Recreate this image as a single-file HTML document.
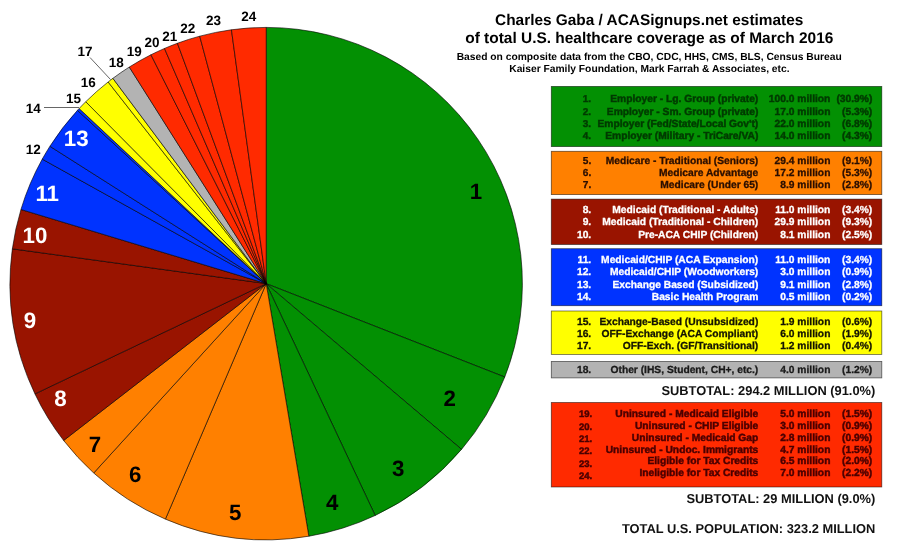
<!DOCTYPE html>
<html><head><meta charset="utf-8"><title>Charles Gaba / ACASignups.net estimates of total U.S. healthcare coverage</title>
<style>
html,body{margin:0;padding:0;background:#fff;}
svg{display:block;filter:blur(0.3px);}
text{font-family:"Liberation Sans",Arial,Helvetica,sans-serif;font-weight:bold;text-rendering:geometricPrecision;}
</style></head>
<body>
<svg width="900" height="546" viewBox="0 0 900 546">
<rect width="900" height="546" fill="#fff"/>
<g stroke="#000" stroke-opacity="0.8" stroke-width="0.75" stroke-linejoin="round"><path d="M266.2 283.6L266.20 27.40A256.2 256.2 0 0 1 504.76 377.02Z" fill="#039003"/><path d="M266.2 283.6L504.76 377.02A256.2 256.2 0 0 1 461.53 449.38Z" fill="#039003"/><path d="M266.2 283.6L461.53 449.38A256.2 256.2 0 0 1 375.18 515.47Z" fill="#039003"/><path d="M266.2 283.6L375.18 515.47A256.2 256.2 0 0 1 308.83 536.23Z" fill="#039003"/><path d="M266.2 283.6L308.83 536.23A256.2 256.2 0 0 1 165.40 519.14Z" fill="#ff8000"/><path d="M266.2 283.6L165.40 519.14A256.2 256.2 0 0 1 93.69 473.01Z" fill="#ff8000"/><path d="M266.2 283.6L93.69 473.01A256.2 256.2 0 0 1 63.65 440.49Z" fill="#ff8000"/><path d="M266.2 283.6L63.65 440.49A256.2 256.2 0 0 1 34.97 393.93Z" fill="#991400"/><path d="M266.2 283.6L34.97 393.93A256.2 256.2 0 0 1 12.37 248.84Z" fill="#991400"/><path d="M266.2 283.6L12.37 248.84A256.2 256.2 0 0 1 20.96 209.47Z" fill="#991400"/><path d="M266.2 283.6L20.96 209.47A256.2 256.2 0 0 1 42.28 159.11Z" fill="#0033ff"/><path d="M266.2 283.6L42.28 159.11A256.2 256.2 0 0 1 49.92 146.27Z" fill="#0033ff"/><path d="M266.2 283.6L49.92 146.27A256.2 256.2 0 0 1 77.46 110.35Z" fill="#0033ff"/><path d="M266.2 283.6L77.46 110.35A256.2 256.2 0 0 1 79.15 108.52Z" fill="#0033ff"/><path d="M266.2 283.6L79.15 108.52A256.2 256.2 0 0 1 85.74 101.74Z" fill="#ffff00"/><path d="M266.2 283.6L85.74 101.74A256.2 256.2 0 0 1 108.14 81.97Z" fill="#ffff00"/><path d="M266.2 283.6L108.14 81.97A256.2 256.2 0 0 1 112.88 78.34Z" fill="#ffff00"/><path d="M266.2 283.6L112.88 78.34A256.2 256.2 0 0 1 129.29 67.05Z" fill="#b3b3b3"/><path d="M266.2 283.6L129.29 67.05A256.2 256.2 0 0 1 150.95 54.78Z" fill="#ff2a00"/><path d="M266.2 283.6L150.95 54.78A256.2 256.2 0 0 1 164.49 48.46Z" fill="#ff2a00"/><path d="M266.2 283.6L164.49 48.46A256.2 256.2 0 0 1 177.43 43.27Z" fill="#ff2a00"/><path d="M266.2 283.6L177.43 43.27A256.2 256.2 0 0 1 199.73 36.17Z" fill="#ff2a00"/><path d="M266.2 283.6L199.73 36.17A256.2 256.2 0 0 1 231.44 29.77Z" fill="#ff2a00"/><path d="M266.2 283.6L231.44 29.77A256.2 256.2 0 0 1 266.20 27.40Z" fill="#ff2a00"/></g>
<g stroke="#000" stroke-opacity="0.8" stroke-width="0.75"><line x1="44" y1="107.5" x2="79" y2="107.5"/><line x1="90" y1="57.5" x2="110.5" y2="79.5"/></g>
<text x="476.0" y="198.7" font-size="22.3" fill="#000" text-anchor="middle">1</text><text x="449.6" y="405.8" font-size="22.3" fill="#000" text-anchor="middle">2</text><text x="398.3" y="476.2" font-size="22.3" fill="#000" text-anchor="middle">3</text><text x="332.3" y="510.4" font-size="22.3" fill="#000" text-anchor="middle">4</text><text x="235.2" y="519.5" font-size="22.3" fill="#000" text-anchor="middle">5</text><text x="135.1" y="481.6" font-size="22.3" fill="#000" text-anchor="middle">6</text><text x="95.0" y="451.5" font-size="22.3" fill="#000" text-anchor="middle">7</text><text x="60.4" y="406.0" font-size="22.3" fill="#fff" text-anchor="middle">8</text><text x="30.0" y="328.2" font-size="22.3" fill="#fff" text-anchor="middle">9</text><text x="35.0" y="242.5" font-size="22.3" fill="#fff" text-anchor="middle">10</text><text x="47.2" y="200.8" font-size="22.3" fill="#fff" text-anchor="middle">11</text><text x="76.2" y="146.2" font-size="22.3" fill="#fff" text-anchor="middle">13</text><text x="33.3" y="154.2" font-size="13.5" fill="#000" text-anchor="middle">12</text><text x="33.3" y="112.5" font-size="13.5" fill="#000" text-anchor="middle">14</text><text x="73.5" y="103.0" font-size="13.5" fill="#000" text-anchor="middle">15</text><text x="88.2" y="86.9" font-size="13.5" fill="#000" text-anchor="middle">16</text><text x="85.0" y="55.5" font-size="13.5" fill="#000" text-anchor="middle">17</text><text x="116.3" y="66.7" font-size="13.5" fill="#000" text-anchor="middle">18</text><text x="134.3" y="55.5" font-size="13.5" fill="#000" text-anchor="middle">19</text><text x="151.9" y="47.0" font-size="13.5" fill="#000" text-anchor="middle">20</text><text x="169.8" y="41.2" font-size="13.5" fill="#000" text-anchor="middle">21</text><text x="187.7" y="32.8" font-size="13.5" fill="#000" text-anchor="middle">22</text><text x="213.5" y="24.7" font-size="13.5" fill="#000" text-anchor="middle">23</text><text x="248.8" y="20.8" font-size="13.5" fill="#000" text-anchor="middle">24</text>
<text x="649.2" y="24.7" font-size="15.4" text-anchor="middle" fill="#000">Charles Gaba / ACASignups.net estimates</text>
<text x="649.3" y="42.8" font-size="15.44" text-anchor="middle" fill="#000">of total U.S. healthcare coverage as of March 2016</text>
<text x="649.2" y="59.9" font-size="10.27" text-anchor="middle" fill="#000">Based on composite data from the CBO, CDC, HHS, CMS, BLS, Census Bureau</text>
<text x="649.4" y="72.4" font-size="10.27" text-anchor="middle" fill="#000">Kaiser Family Foundation, Mark Farrah &amp; Associates, etc.</text>
<rect x="551.3" y="86.4" width="330.5" height="60.2" fill="#039003" stroke="#000" stroke-opacity="0.6" stroke-width="0.8"/><g fill="#003a00" stroke="#003a00" stroke-width="0.45" font-size="10.25" text-anchor="end"><text x="591.0" y="102.3" font-size="9.9">1.</text><text x="758.3" y="102.3">Employer - Lg. Group (private)</text><text x="830.4" y="102.3">100.0 million</text><text x="872.3" y="102.3">(30.9%)</text><text x="591.0" y="114.6" font-size="9.9">2.</text><text x="758.3" y="114.6">Employer - Sm. Group (private)</text><text x="830.4" y="114.6">17.0 million</text><text x="872.3" y="114.6">(5.3%)</text><text x="591.0" y="126.9" font-size="9.9">3.</text><text x="758.3" y="126.9">Employer (Fed/State/Local Gov't)</text><text x="830.4" y="126.9">22.0 million</text><text x="872.3" y="126.9">(6.8%)</text><text x="591.0" y="139.3" font-size="9.9">4.</text><text x="758.3" y="139.3">Employer (Military - TriCare/VA)</text><text x="830.4" y="139.3">14.0 million</text><text x="872.3" y="139.3">(4.3%)</text></g><rect x="551.3" y="151.3" width="330.5" height="43.3" fill="#ff8000" stroke="#000" stroke-opacity="0.6" stroke-width="0.8"/><g fill="#2a0e00" stroke="#2a0e00" stroke-width="0.3" font-size="10.25" text-anchor="end"><text x="591.2" y="163.9" font-size="10.1">5.</text><text x="758.3" y="163.9">Medicare - Traditional (Seniors)</text><text x="830.4" y="163.9">29.4 million</text><text x="872.3" y="163.9">(9.1%)</text><text x="591.2" y="176.2" font-size="10.1">6.</text><text x="758.3" y="176.2">Medicare Advantage</text><text x="830.4" y="176.2">17.2 million</text><text x="872.3" y="176.2">(5.3%)</text><text x="591.2" y="188.4" font-size="10.1">7.</text><text x="758.3" y="188.4">Medicare (Under 65)</text><text x="830.4" y="188.4">8.9 million</text><text x="872.3" y="188.4">(2.8%)</text></g><rect x="551.3" y="199.1" width="330.5" height="45.4" fill="#991400" stroke="#000" stroke-opacity="0.6" stroke-width="0.8"/><g fill="#fff" stroke="#fff" stroke-width="0.3" font-size="10.25" text-anchor="end"><text x="591.2" y="213.0" font-size="10.25">8.</text><text x="758.3" y="213.0">Medicaid (Traditional - Adults)</text><text x="830.4" y="213.0">11.0 million</text><text x="872.3" y="213.0">(3.4%)</text><text x="591.2" y="225.4" font-size="10.25">9.</text><text x="758.3" y="225.4">Medicaid (Traditional - Children)</text><text x="830.4" y="225.4">29.9 million</text><text x="872.3" y="225.4">(9.3%)</text><text x="591.2" y="237.8" font-size="10.25">10.</text><text x="758.3" y="237.8">Pre-ACA CHIP (Children)</text><text x="830.4" y="237.8">8.1 million</text><text x="872.3" y="237.8">(2.5%)</text></g><rect x="551.3" y="248.7" width="330.5" height="57.0" fill="#0033ff" stroke="#000" stroke-opacity="0.6" stroke-width="0.8"/><g fill="#fff" stroke="#fff" stroke-width="0.3" font-size="10.25" text-anchor="end"><text x="591.2" y="262.9" font-size="10.25">11.</text><text x="758.3" y="262.9">Medicaid/CHIP (ACA Expansion)</text><text x="830.4" y="262.9">11.0 million</text><text x="872.3" y="262.9">(3.4%)</text><text x="591.2" y="275.3" font-size="10.25">12.</text><text x="758.3" y="275.3">Medicaid/CHIP (Woodworkers)</text><text x="830.4" y="275.3">3.0 million</text><text x="872.3" y="275.3">(0.9%)</text><text x="591.2" y="287.6" font-size="10.25">13.</text><text x="758.3" y="287.6">Exchange Based (Subsidized)</text><text x="830.4" y="287.6">9.1 million</text><text x="872.3" y="287.6">(2.8%)</text><text x="591.2" y="299.9" font-size="10.25">14.</text><text x="758.3" y="299.9">Basic Health Program</text><text x="830.4" y="299.9">0.5 million</text><text x="872.3" y="299.9">(0.2%)</text></g><rect x="551.3" y="311" width="330.5" height="43.4" fill="#ffff00" stroke="#000" stroke-opacity="0.6" stroke-width="0.8"/><g fill="#141400" stroke="#141400" stroke-width="0.3" font-size="10.25" text-anchor="end"><text x="591.2" y="324.5" font-size="10.25">15.</text><text x="758.3" y="324.5">Exchange-Based (Unsubsidized)</text><text x="830.4" y="324.5">1.9 million</text><text x="872.3" y="324.5">(0.6%)</text><text x="591.2" y="336.9" font-size="10.25">16.</text><text x="758.3" y="336.9">OFF-Exchange (ACA Compliant)</text><text x="830.4" y="336.9">6.0 million</text><text x="872.3" y="336.9">(1.9%)</text><text x="591.2" y="349.3" font-size="10.25">17.</text><text x="758.3" y="349.3">OFF-Exch. (GF/Transitional)</text><text x="830.4" y="349.3">1.2 million</text><text x="872.3" y="349.3">(0.4%)</text></g><rect x="551.3" y="361.4" width="330.5" height="16.5" fill="#b3b3b3" stroke="#000" stroke-opacity="0.6" stroke-width="0.8"/><g fill="#1a1a1a" stroke="#1a1a1a" stroke-width="0.3" font-size="10.25" text-anchor="end"><text x="591.2" y="372.8" font-size="10.25">18.</text><text x="758.3" y="372.8">Other (IHS, Student, CH+, etc.)</text><text x="830.4" y="372.8">4.0 million</text><text x="872.3" y="372.8">(1.2%)</text></g><rect x="551.3" y="402.5" width="330.5" height="84.5" fill="#ff2a00" stroke="#000" stroke-opacity="0.6" stroke-width="0.8"/><g fill="#4a0000" stroke="#4a0000" stroke-width="0.45" font-size="10.25" text-anchor="end"><text x="592.2" y="417.4" font-size="9.5">19.</text><text x="758.3" y="416.7">Uninsured - Medicaid Eligible</text><text x="830.4" y="416.7">5.0 million</text><text x="872.3" y="416.7">(1.5%)</text><text x="592.2" y="429.8" font-size="9.5">20.</text><text x="758.3" y="428.7">Uninsured - CHIP Eligible</text><text x="830.4" y="428.7">3.0 million</text><text x="872.3" y="428.7">(0.9%)</text><text x="592.2" y="442.1" font-size="9.5">21.</text><text x="758.3" y="440.7">Uninsured - Medicaid Gap</text><text x="830.4" y="440.7">2.8 million</text><text x="872.3" y="440.7">(0.9%)</text><text x="592.2" y="454.4" font-size="9.5">22.</text><text x="758.3" y="452.6">Uninsured - Undoc. Immigrants</text><text x="830.4" y="452.6">4.7 million</text><text x="872.3" y="452.6">(1.5%)</text><text x="592.2" y="466.8" font-size="9.5">23.</text><text x="758.3" y="464.3">Eligible for Tax Credits</text><text x="830.4" y="464.3">6.5 million</text><text x="872.3" y="464.3">(2.0%)</text><text x="592.2" y="479.1" font-size="9.5">24.</text><text x="758.3" y="476.1">Ineligible for Tax Credits</text><text x="830.4" y="476.1">7.0 million</text><text x="872.3" y="476.1">(2.2%)</text></g>
<g font-size="12.87" text-anchor="end" fill="#111"><text x="875.3" y="395.3">SUBTOTAL: 294.2 MILLION (91.0%)</text>
<text x="875.3" y="503.2">SUBTOTAL: 29 MILLION (9.0%)</text>
<text x="875.3" y="533.3">TOTAL U.S. POPULATION: 323.2 MILLION</text></g>
</svg>
</body></html>
